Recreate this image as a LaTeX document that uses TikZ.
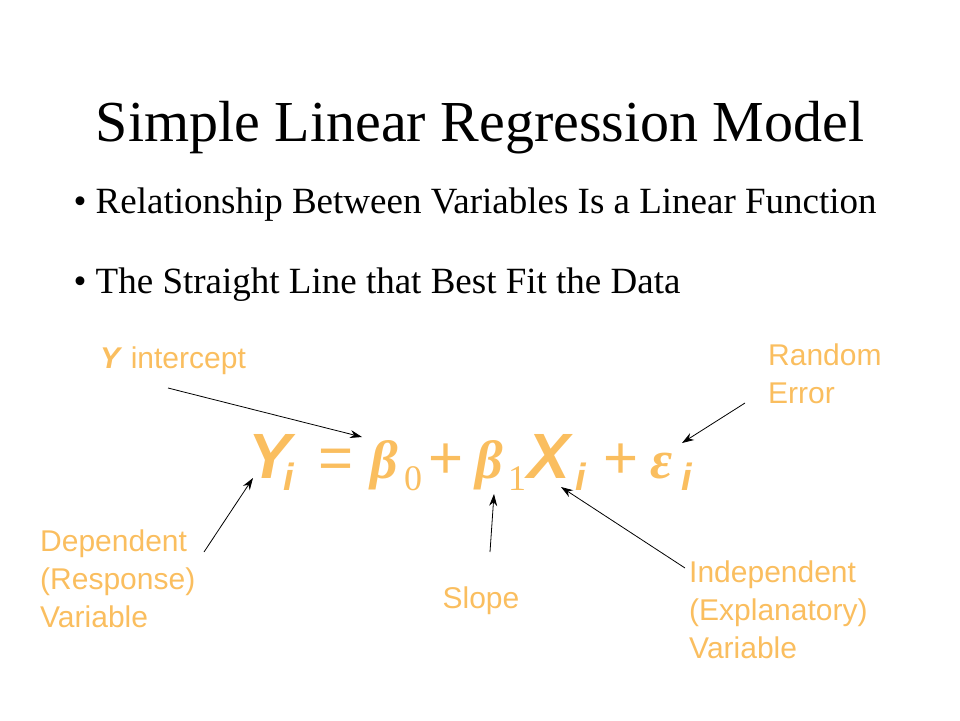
\documentclass[tikz,border=0pt]{standalone}
\usepackage{fontspec}
\usetikzlibrary{arrows.meta}
\setmainfont{Liberation Serif}
\setsansfont{Liberation Sans}
\definecolor{lab}{RGB}{250,190,95}
\begin{document}
\begin{tikzpicture}[x=1pt,y=-1pt,
 lbl/.style={font=\sffamily\fontsize{30}{38}\selectfont,text=lab,align=left,inner sep=0pt},
 eq/.style={text=lab,inner sep=0pt,anchor=base west},
 ss/.style={eq,font=\sffamily\bfseries\itshape\fontsize{64}{64}\selectfont},
 sr/.style={eq,font=\bfseries\itshape\fontsize{54}{54}\selectfont},
 sub/.style={eq,font=\sffamily\bfseries\itshape\fontsize{38}{38}\selectfont},
 subr/.style={eq,font=\fontsize{36}{36}\selectfont},
 op/.style={eq,font=\sffamily\fontsize{60}{60}\selectfont},
 arr/.style={-{Stealth[length=12pt,width=8pt]},line width=0.8pt}]
\useasboundingbox (0,0) rectangle (960,720);
\node[font=\fontsize{58}{64}\selectfont] (t) at (480,128) {Simple Linear Regression Model};
\node[font=\fontsize{37}{42}\selectfont,anchor=west] (b1) at (70,205) {\textbullet\ Relationship Between Variables Is a Linear Function};
\node[font=\fontsize{37}{42}\selectfont,anchor=west] (b2) at (70,285) {\textbullet\ The Straight Line that Best Fit the Data};
% equation
\node[ss] (Y) at (248,478) {Y};
\node[sub] (i1) at (283,490) {i};
\node[op] (eqs) at (318,478) {=};
\node[sr] (b0) at (370,478) {β};
\node[subr] (z0) at (404,490) {0};
\node[op] (p1) at (428,478) {+};
\node[sr] (b1g) at (475,478) {β};
\node[subr] (z1) at (508,490) {1};
\node[ss] (X) at (527,478) {X};
\node[sub] (i2) at (575,490) {i};
\node[op] (p2) at (603,478) {+};
\node[sr] (e) at (650,478) {ε};
\node[sub] (i3) at (681,490) {i};
% labels
\node[lbl,anchor=west] (yi) at (100,361) {\textbf{\textit{Y}} intercept};
\node[lbl,anchor=north west] (re) at (768,344) {Random\\Error};
\node[lbl,anchor=north west] (dep) at (40,530) {Dependent\\(Response)\\Variable};
\node[lbl] (sl) at (481,601) {Slope};
\node[lbl,anchor=north west] (ind) at (689,561) {Independent\\(Explanatory)\\Variable};
\coordinate (a1) at (168,388); \coordinate (a1e) at (362,437);
\coordinate (a2) at (745,403); \coordinate (a2e) at (682,443);
\coordinate (a3) at (204,552); \coordinate (a3e) at (253,478);
\coordinate (a4) at (490,552); \coordinate (a4e) at (494,494);
\coordinate (a5) at (685,568); \coordinate (a5e) at (561,487);
\draw[arr] (a1) -- (a1e);
\draw[arr] (a2) -- (a2e);
\draw[arr] (a3) -- (a3e);
\draw[arr] (a4) -- (a4e);
\draw[arr] (a5) -- (a5e);
\end{tikzpicture}
\end{document}
